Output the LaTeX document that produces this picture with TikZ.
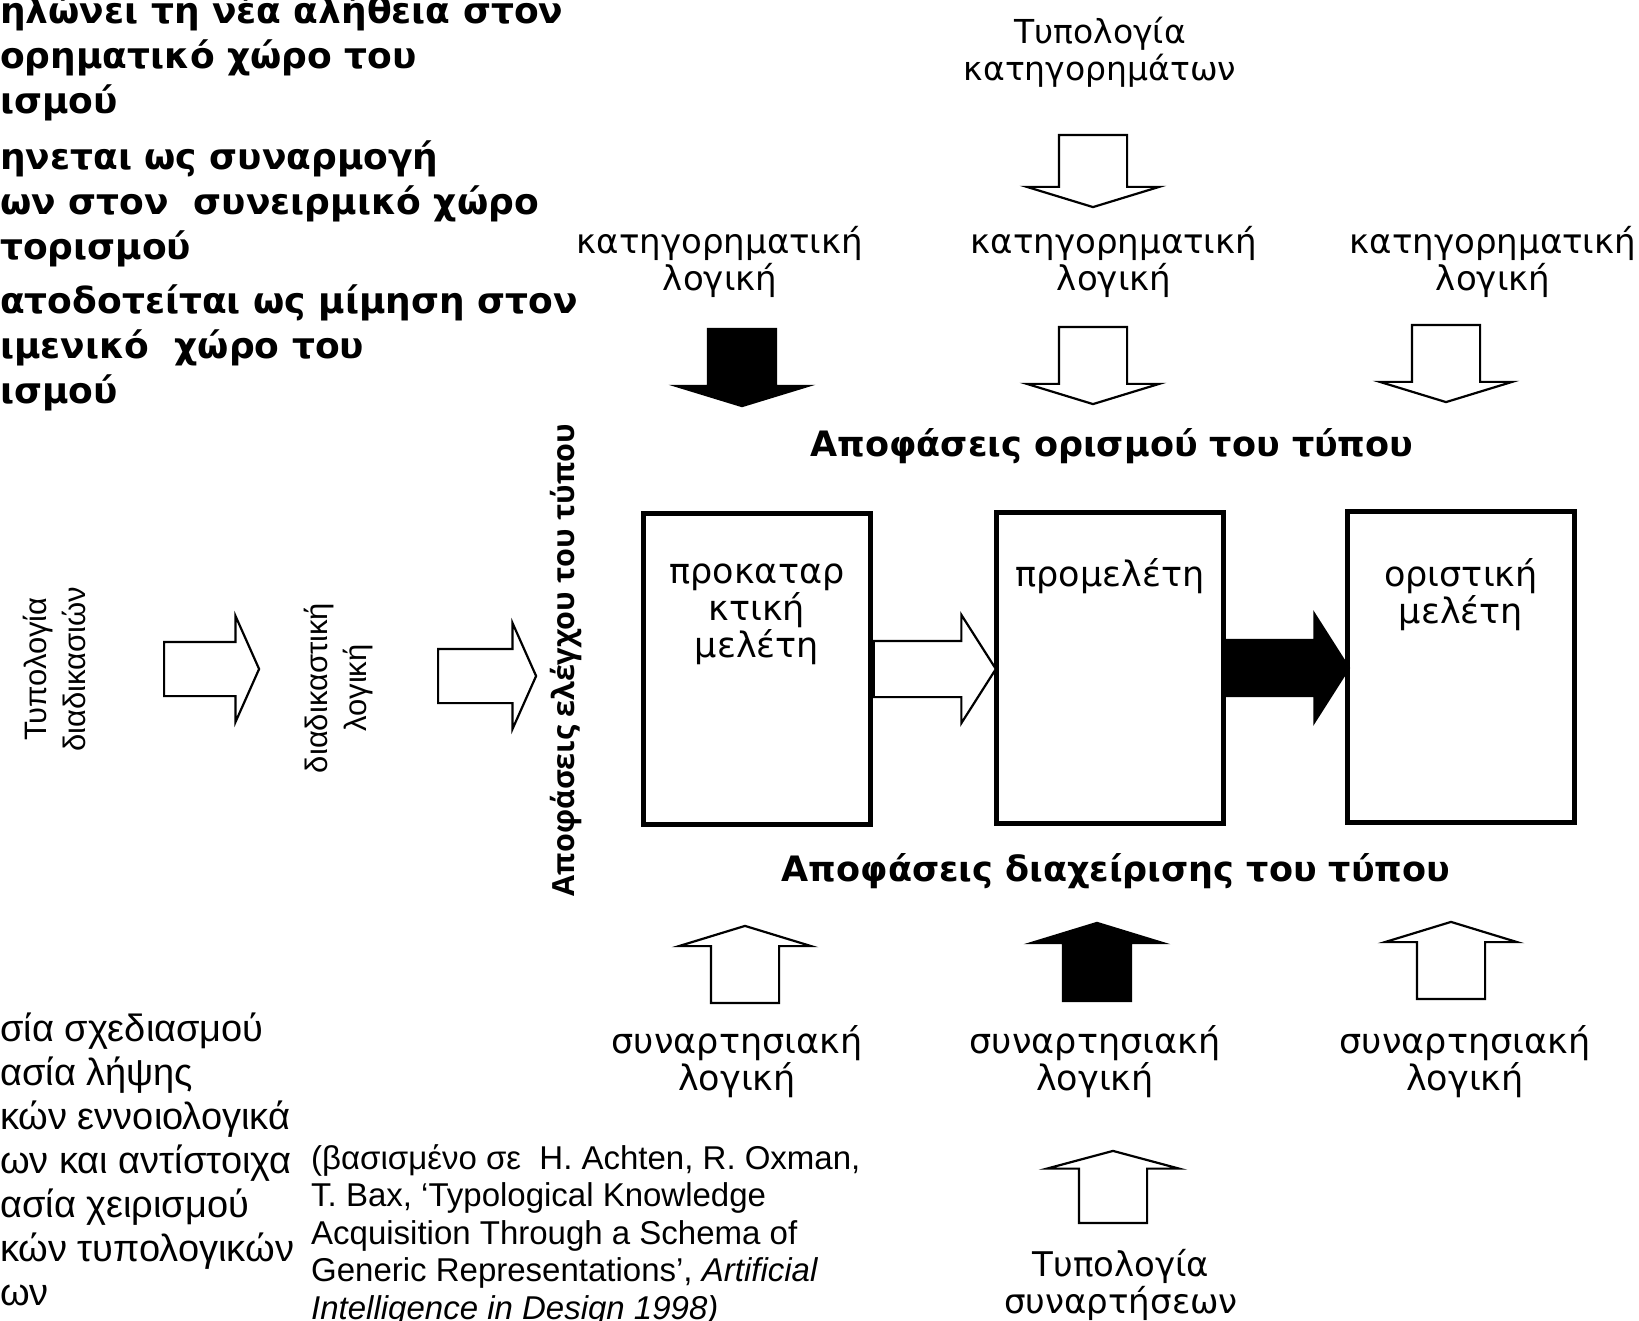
\documentclass[tikz,border=0pt]{standalone}
\usepackage{fontspec}
\setmainfont{DejaVu Sans}
\newfontfamily\MArial{Liberation Sans}
\newfontfamily\MOpen{Open Sans}
\usepackage{xcolor}
\usepackage{tikz}
\usetikzlibrary{positioning,shapes.arrows}
\definecolor{MInk}{HTML}{000000}
\definecolor{MPaper}{HTML}{FFFFFF}

\begin{document}
\begin{tikzpicture}[x=1pt,y=-1pt,
  every node/.style={align=center, text=MInk, inner sep=0pt},
  lbl/.style={font=\fontsize{34}{37}\selectfont},
  big/.style={font=\fontsize{35}{37}\selectfont},
  hd/.style={font=\fontsize{35}{35}\selectfont\bfseries},
  side/.style={font=\fontsize{36}{45}\selectfont\bfseries, align=left, anchor=north west},
  stage/.style={draw=MInk, line width=4.5pt, minimum width=227pt, minimum height=311pt},
  blk/.style={single arrow, draw=MInk, line width=2.2pt, fill=MPaper,
    single arrow head indent=0pt, inner xsep=0pt},
  hblk/.style={blk, inner ysep=26pt, minimum width=104pt, single arrow head extend=26pt,
    single arrow tip angle=132},
  vblk/.style={blk, inner ysep=33pt, minimum width=131pt, single arrow head extend=32pt,
    single arrow tip angle=146}]
  \path[fill=MPaper] (0,0) rectangle (1639,1321);
  \useasboundingbox (0,0) rectangle (1639,1321);

  % cut-off notes on the left
  \node[side] (g1) at (0,-5)  {ηλώνει τη νέα αλήθεια στον\\ορηματικό χώρο του\\ισμού};
  \node[side] (g2) at (0,141) {ηνεται ως συναρμογή\\ων στον\ \ συνειρμικό χώρο\\τορισμού};
  \node[side] (g3) at (0,285) {ατοδοτείται ως μίμηση στον\\ιμενικό\ \ χώρο του\\ισμού};

  \node[font=\MArial\fontsize{38}{44}\selectfont, align=left, anchor=north west] (bl) at (0,1013)
    {σία σχεδιασμού\\ασία λήψης\\κών εννοιολογικά\\ων και αντίστοιχα\\ασία χειρισμού\\κών τυπολογικών\\ων};
  \node[font=\MArial\fontsize{33}{37.5}\selectfont, align=left, anchor=north west] (cit) at (311,1144)
    {(βασισμένο σε\ \ H. Achten, R. Oxman,\\T. Bax, ‘Typological Knowledge\\Acquisition Through a Schema of\\Generic Representations’, \textit{Artificial}\\\textit{Intelligence in Design 1998)}};

  % process typology
  \node[font=\MArial\fontsize{31}{39}\selectfont, rotate=90] (tdi) at (54,669) {Τυπολογία\\διαδικασιών};
  \node[font=\MArial\fontsize{31}{39}\selectfont, rotate=90] (ldi) at (339,688) {διαδικαστική\\λογική};
  \node[hblk, anchor=tail, minimum height=95pt] (h1) at (163,669) {};
  \node[hblk, anchor=tail, minimum height=98pt] (h2) at (437,676) {};
  \node[font=\MOpen\bfseries\fontsize{30.5}{30.5}\selectfont, rotate=90] (ctl) at (566,660) {Αποφάσεις ελέγχου του τύπου};

  % predicates
  \node[font=\fontsize{33}{37}\selectfont] (tk) at (1100,52) {Τυπολογία\\κατηγορημάτων};
  \node[vblk, rotate=-90, anchor=tail, minimum height=72pt] (d0) at (1093,134) {};
  \node[lbl] (k1) at (720,262)  {κατηγορηματική\\λογική};
  \node[lbl] (k2) at (1114,262) {κατηγορηματική\\λογική};
  \node[lbl] (k3) at (1493,262) {κατηγορηματική\\λογική};
  \node[vblk, rotate=-90, anchor=tail, minimum height=77pt, fill=MInk] (d1) at (742,328) {};
  \node[vblk, rotate=-90, anchor=tail, minimum height=77pt] (d2) at (1093,326) {};
  \node[vblk, rotate=-90, anchor=tail, minimum height=77pt] (d3) at (1446,324) {};
  \node[hd] (dor) at (1112,446) {Αποφάσεις ορισμού του τύπου};

  % design stages
  \node[stage] (p1) at (757,669) {};
  \node[stage] (p2) at (1110,668) {};
  \node[stage] (p3) at (1461,667) {};
  \node[big, below=52pt of p1.north] (t1) {προκαταρ\\κτική\\μελέτη};
  \node[big, below=48pt of p2.north] (t2) {προμελέτη};
  \node[big, below=49pt of p3.north] (t3) {οριστική\\μελέτη};
  \node[blk, inner ysep=27pt, minimum width=106pt, single arrow head extend=26pt,
    single arrow tip angle=115, anchor=tail, minimum height=122pt] (e1) at (p1.east) {};
  \node[blk, inner ysep=27pt, minimum width=106pt, single arrow head extend=26pt,
    single arrow tip angle=115, anchor=tail, minimum height=122pt, fill=MInk] (e2) at (p2.east) {};

  % functions
  \node[hd] (ddx) at (1116,871) {Αποφάσεις διαχείρισης του τύπου};
  \node[vblk, rotate=90, anchor=tail, minimum height=77pt] (u1) at (745,1004) {};
  \node[vblk, rotate=90, anchor=tail, minimum height=78pt, fill=MInk] (u2) at (1097,1002) {};
  \node[vblk, rotate=90, anchor=tail, minimum height=77pt] (u3) at (1451,1000) {};
  \node[big] (s1) at (737,1062)  {συναρτησιακή\\λογική};
  \node[big] (s2) at (1095,1062) {συναρτησιακή\\λογική};
  \node[big] (s3) at (1465,1062) {συναρτησιακή\\λογική};
  \node[vblk, rotate=90, anchor=tail, minimum height=72pt, single arrow tip angle=150] (u0) at (1113,1224) {};
  \node[lbl] (ts) at (1121,1285) {Τυπολογία\\συναρτήσεων};
\end{tikzpicture}
\end{document}
